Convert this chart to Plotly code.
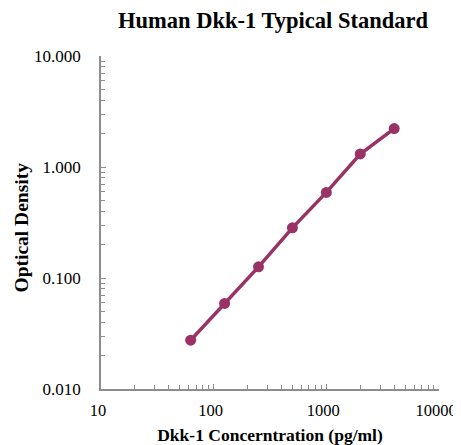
import plotly.graph_objects as go

conc = [62.5, 125, 250, 500, 1000, 2000, 4000]
od = [0.0275, 0.059, 0.126, 0.283, 0.59, 1.31, 2.22]

y_tickvals = [0.01, 0.1, 1, 10]
y_ticktext = ["0.010", "0.100", "1.000", "10.000"]
x_tickvals = [10, 100, 1000, 10000]
x_ticktext = ["10", "100", "1000", "10000"]

color = "#993366"
font = "Liberation Serif"
axcol = "#8c8c8c"

fig = go.Figure()
fig.add_trace(go.Scatter(
    x=conc, y=od, mode="lines+markers",
    line=dict(color=color, width=3.5),
    marker=dict(color=color, size=11),
    showlegend=False,
))

fig.update_layout(
    width=453, height=437,
    margin=dict(l=93, r=22, t=48, b=56),
    paper_bgcolor="white", plot_bgcolor="white",
    title=dict(text="<b>Human Dkk-1 Typical Standard</b>", x=0.585, xanchor="center",
               y=0.9725, yanchor="middle",
               font=dict(family=font, size=22.5, color="black")),
    font=dict(family=font, size=16, color="black"),
    annotations=[dict(text="<b>Optical Density</b>", xref="paper", yref="paper",
                      x=0, y=0.5, xanchor="center", yanchor="middle",
                      xshift=-80, yshift=-5, textangle=-90, showarrow=False,
                      font=dict(family=font, size=19.5, color="black"))],
)
fig.update_xaxes(
    type="log", range=[1, 4], automargin=False,
    tickvals=x_tickvals, ticktext=x_ticktext,
    ticks="inside", ticklen=5, tickcolor=axcol,
    minor=dict(ticks="inside", ticklen=4, tickcolor=axcol, dtick="D1", showgrid=False),
    showline=True, linecolor=axcol, linewidth=1.5,
    showgrid=False, zeroline=False,
    tickfont=dict(family=font, size=16.5, color="black"),
    ticklabelstandoff=5, ticklabelshift=-3,
    title=dict(text="<b>Dkk-1 Concerntration (pg/ml)</b>", standoff=10,
               font=dict(family=font, size=17.5, color="black")),
)
fig.update_yaxes(
    type="log", range=[-2, 1], automargin=False,
    tickvals=y_tickvals, ticktext=y_ticktext,
    ticks="inside", ticklen=5, tickcolor=axcol,
    minor=dict(ticks="inside", ticklen=4, tickcolor=axcol, dtick="D1", showgrid=False),
    showline=True, linecolor=axcol, linewidth=1.5,
    showgrid=False, zeroline=False,
    tickfont=dict(family=font, size=17, color="black"),
    ticklabelstandoff=15,
)

fig.write_html("out.html")
